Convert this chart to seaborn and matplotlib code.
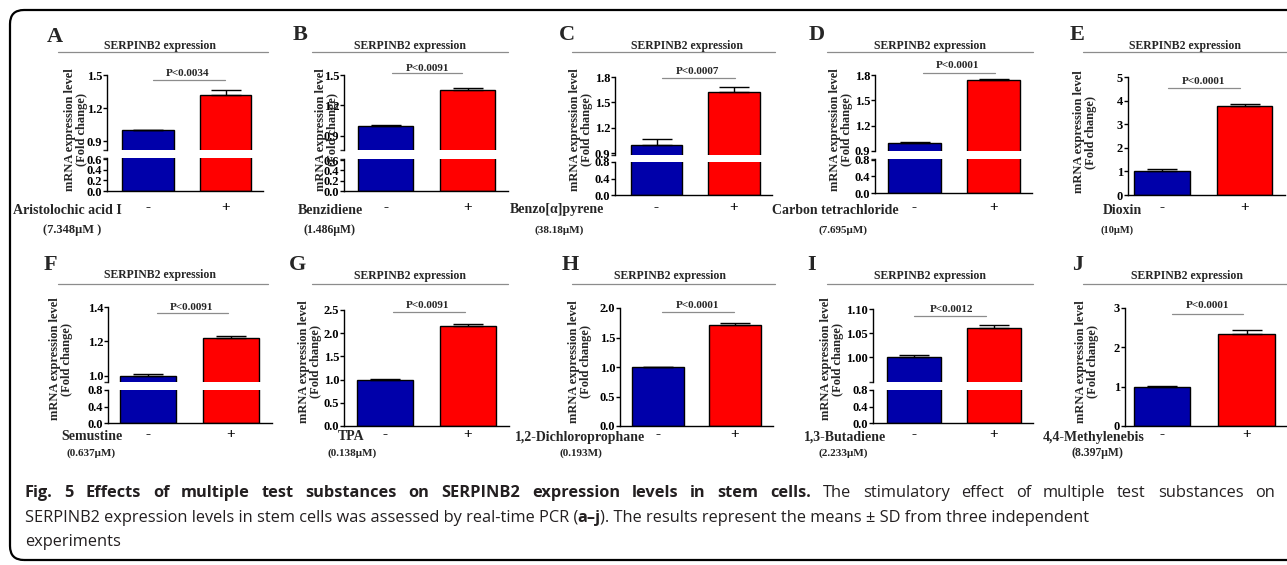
import matplotlib
matplotlib.use("Agg")
import matplotlib.pyplot as plt
from matplotlib.lines import Line2D
from matplotlib.patches import FancyBboxPatch
from matplotlib.ticker import FormatStrFormatter
import pandas as pd
import seaborn as sns

# ---- values ----
letters = ["A", "B", "C", "D", "E", "F", "G", "H", "I", "J"]
substances = ["Aristolochic acid I", "Benzidiene", "Benzo[α]pyrene", "Carbon tetrachloride", "Dioxin",
              "Semustine", "TPA", "1,2-Dichloroprophane", "1,3-Butadiene", "4,4-Methylenebis"]
doses = ["(7.348μM )", "(1.486μM)", "(38.18μM)", "(7.695μM)", "(10μM)",
         "(0.637μM)", "(0.138μM)", "(0.193M)", "(2.233μM)", "(8.397μM)"]
p_values = ["P<0.0034", "P<0.0091", "P<0.0007", "P<0.0001", "P<0.0001",
            "P<0.0091", "P<0.0091", "P<0.0001", "P<0.0012", "P<0.0001"]
groups = ["-", "+"]
ctrl_mean = [1.00, 1.00, 1.00, 1.00, 1.00, 1.00, 1.00, 1.00, 1.00, 1.00]
ctrl_sd = [0.005, 0.004, 0.07, 0.005, 0.10, 0.012, 0.02, 0.0, 0.005, 0.02]
treat_mean = [1.32, 1.35, 1.62, 1.74, 3.78, 1.22, 2.15, 1.72, 1.06, 2.33]
treat_sd = [0.045, 0.02, 0.06, 0.015, 0.09, 0.013, 0.05, 0.02, 0.007, 0.12]
upper_ticks = [[0.9, 1.2, 1.5], [0.9, 1.2, 1.5], [0.9, 1.2, 1.5, 1.8], [0.9, 1.2, 1.5, 1.8],
               [0, 1, 2, 3, 4, 5], [1.0, 1.2, 1.4], [0, 0.5, 1.0, 1.5, 2.0, 2.5],
               [0, 0.5, 1.0, 1.5, 2.0], [1.00, 1.05, 1.10], [0, 1, 2, 3]]
lower_ticks = [[0, 0.2, 0.4, 0.6], [0, 0.2, 0.4, 0.6], [0, 0.4, 0.8], [0, 0.4, 0.8], None,
               [0, 0.4, 0.8], None, None, [0, 0.4, 0.8], None]
# axis break limits (None = continuous axis)
upper_lo = [0.82, 0.76, 0.88, 0.90, None, 0.965, None, None, 0.948, None]
lower_hi = [0.62, 0.62, 0.80, 0.82, None, 0.80, None, None, 0.80, None]
tick_fmt = ["%.1f", "%.1f", "%.1f", "%.1f", "%d", "%.1f", "%.1f", "%.1f", "%.2f", "%d"]

caption_1 = [("Fig. 5 Effects of multiple test substances on SERPINB2 expression levels in stem cells.", "bold"),
             ("The stimulatory effect of multiple test substances on", "normal")]
caption_2 = [("SERPINB2 expression levels in stem cells was assessed by real-time PCR (", "normal"),
             ("a–j", "bold"),
             ("). The results represent the means ± SD from three independent", "normal")]
caption_3 = [("experiments", "normal")]

# ---- layout in pixels of the 1287x565 picture ----
W, H = 1287, 565
yaxis_x = [107, 344, 615, 875, 1128, 108, 344, 620, 873, 1125]
bar0_x = [148, 385.5, 656.5, 914.5, 1162, 148, 385, 658, 914, 1162]
bar1_x = [225.5, 467.5, 734, 993.5, 1244.5, 231, 468, 735, 994, 1246.5]
top_y = [75, 75, 77, 75, 77, 307, 310, 308, 309, 308]
bot_y = [191, 191, 195, 193, 195, 423, 426, 426, 423, 426]
upper_bot_y = [150, 150, 155, 151, None, 382, None, None, 382, None]
lower_top_y = [158, 159, 162, 159, None, 390, None, None, 390, None]
letter_xy = [(55, 37), (300, 35), (567, 35), (817, 35), (1077, 35),
             (50, 265), (298, 265), (570, 265), (812, 265), (1078, 265)]
title_xy = [(160, 46), (410, 46), (687, 46), (930, 46), (1185, 46),
            (160, 275), (410, 276), (670, 276), (930, 276), (1187, 276)]
title_line = [(58, 268, 52), (312, 508, 52), (572, 775, 52), (827, 1033, 52), (1083, 1290, 52),
              (58, 268, 284), (312, 508, 284), (572, 775, 284), (827, 1033, 284), (1083, 1290, 284)]
p_xy = [(188, 73), (427, 68), (698, 71), (958, 66), (1203, 81),
        (192, 307), (428, 306), (698, 306), (952, 310), (1208, 306)]
p_line = [(153, 225, 80), (392, 462, 73), (662, 735, 78), (923, 995, 73), (1168, 1240, 88),
          (157, 228, 313), (393, 465, 312), (662, 734, 312), (914, 986, 316), (1172, 1243, 314)]
ylab_x = [76, 327, 581, 841, 1085, 61, 310, 580, 832, 1087]
ylab_y = [130, 130, 130, 130, 132, 359, 362, 362, 359, 362]
sub_x = [67, 330, 557, 835, 1122, 92, 351, 580, 845, 1094]
dose_x = [72, 330, 559, 843, 1117, 91, 352, 581, 843, 1097]
dose_size = [9, 8.5, 8, 8, 7.5, 8, 8, 8, 8, 8.5]
row_label_y = [210, 437]
row_dose_y = [230, 453]

BLUE = "#0000AA"
RED = "#FF0000"

sns.set_style("ticks")
plt.rcParams["font.family"] = ["Liberation Serif", "DejaVu Serif"]
plt.rcParams["font.weight"] = "bold"
plt.rcParams["axes.linewidth"] = 1.0
plt.rcParams["axes.edgecolor"] = "black"


def fx(x):
    return x / W


def fy(y):
    return 1 - y / H


def px_axes(x0, x1, y0, y1):
    return fig.add_axes([fx(x0), fy(y1), (x1 - x0) / W, (y1 - y0) / H])


def draw_bars(ax, i):
    df = pd.DataFrame({"group": groups, "value": [ctrl_mean[i], treat_mean[i]]})
    sns.barplot(data=df, x="group", y="value", hue="group", order=groups, hue_order=groups,
                palette=[BLUE, RED], saturation=1, width=0.67, edgecolor="black",
                linewidth=1.0, errorbar=None, legend=False, ax=ax)
    ax.errorbar([0, 1], [ctrl_mean[i], treat_mean[i]],
                yerr=[[0, 0], [ctrl_sd[i], treat_sd[i]]], fmt="none", ecolor="black",
                elinewidth=1.0, capsize=11, capthick=1.0, zorder=3)
    ax.set_xlabel("")
    ax.set_ylabel("")
    ax.set_facecolor("none")
    sns.despine(ax=ax)
    ax.tick_params(axis="y", length=3, width=1, labelsize=9, pad=0.5, colors="black")


fig = plt.figure(figsize=(W / 100, H / 100), dpi=100)

for i in range(10):
    row = 0 if i < 5 else 1
    s = bar1_x[i] - bar0_x[i]
    xl = (yaxis_x[i] - bar0_x[i]) / s
    xr = 1.49
    x_right = bar0_x[i] + xr * s
    pad_pt = (row_label_y[row] - bot_y[i] - 9) / 1.389

    if upper_lo[i] is None:
        ax = px_axes(yaxis_x[i], x_right, top_y[i], bot_y[i])
        draw_bars(ax, i)
        ax.set_ylim(0, upper_ticks[i][-1])
        ax.set_yticks(upper_ticks[i])
        ax.yaxis.set_major_formatter(FormatStrFormatter(tick_fmt[i]))
        bottom_ax = ax
    else:
        ax = px_axes(yaxis_x[i], x_right, top_y[i], upper_bot_y[i])
        draw_bars(ax, i)
        ax.set_ylim(upper_lo[i], upper_ticks[i][-1])
        ax.set_yticks(upper_ticks[i])
        ax.set_yticks([upper_lo[i]], minor=True)
        ax.tick_params(axis="y", which="minor", length=3, width=1)
        ax.yaxis.set_major_formatter(FormatStrFormatter(tick_fmt[i]))
        ax.spines["bottom"].set_visible(False)
        ax.tick_params(axis="x", bottom=False, labelbottom=False)
        ax.set_xlim(xl, xr)

        bottom_ax = px_axes(yaxis_x[i], x_right, lower_top_y[i], bot_y[i])
        draw_bars(bottom_ax, i)
        bottom_ax.set_ylim(0, lower_hi[i])
        bottom_ax.set_yticks(lower_ticks[i])
        bottom_ax.set_yticks([lower_hi[i]], minor=True)
        bottom_ax.tick_params(axis="y", which="minor", length=3, width=1)
        bottom_ax.yaxis.set_major_formatter(FormatStrFormatter("%.1f"))

    bottom_ax.set_xlim(xl, xr)
    bottom_ax.tick_params(axis="x", length=0, labelsize=11, pad=pad_pt, colors="black")

    # panel decorations
    fig.text(fx(letter_xy[i][0]), fy(letter_xy[i][1]), letters[i], fontsize=16,
             ha="center", va="center")
    fig.text(fx(title_xy[i][0]), fy(title_xy[i][1]), "SERPINB2 expression", fontsize=8.5,
             ha="center", va="center")
    x0, x1, y = title_line[i]
    fig.add_artist(Line2D([fx(x0), fx(x1)], [fy(y), fy(y)], color="#8c8c8c", lw=0.9))
    fig.text(fx(p_xy[i][0]), fy(p_xy[i][1]), p_values[i], fontsize=8, ha="center", va="center")
    x0, x1, y = p_line[i]
    fig.add_artist(Line2D([fx(x0), fx(x1)], [fy(y), fy(y)], color="#8c8c8c", lw=0.9))
    fig.text(fx(ylab_x[i]), fy(ylab_y[i]), "mRNA expression level\n(Fold change)", fontsize=9,
             rotation=90, ha="center", va="center", multialignment="center", linespacing=1.05)
    fig.text(fx(sub_x[i]), fy(row_label_y[row]), substances[i], fontsize=10,
             ha="center", va="center")
    fig.text(fx(dose_x[i]), fy(row_dose_y[row]), doses[i], fontsize=dose_size[i],
             ha="center", va="center")

# rounded frame around the whole figure
frame = FancyBboxPatch((10, 5), 1320, 550, boxstyle="round,pad=0,rounding_size=14",
                       transform=None, fill=False, edgecolor="black", linewidth=1.6)
fig.add_artist(frame)

# caption with mixed weights
renderer = fig.canvas.get_renderer()
cap_family = ["Open Sans", "DejaVu Sans"]
cap_size = 11.8
cap_color = "#231f20"


def cap_text(txt, weight, y):
    return fig.text(0, fy(y), txt, fontsize=cap_size, fontweight=weight, family=cap_family,
                    color=cap_color, ha="left", va="baseline")


def width_px(t):
    return t.get_window_extent(renderer).width


def justified_line(x, x_end, y, parts):
    # word by word, spread the spare room over the gaps
    words = []
    for txt, weight in parts:
        for w in txt.split(" "):
            words.append(cap_text(w, weight, y))
    probe = cap_text("a a", "normal", y)
    probe2 = cap_text("aa", "normal", y)
    space = width_px(probe) - width_px(probe2)
    probe.remove()
    probe2.remove()
    widths = [width_px(t) for t in words]
    extra = (x_end - x - sum(widths) - space * (len(words) - 1)) / (len(words) - 1)
    for t, w in zip(words, widths):
        t.set_x(fx(x))
        x += w + space + extra


def plain_line(x, y, parts, gaps):
    for (txt, weight), gap in zip(parts, gaps):
        x += gap
        t = cap_text(txt, weight, y)
        t.set_x(fx(x))
        x += width_px(t)


justified_line(25, 1275, 497, caption_1)
plain_line(25, 522, caption_2, [0, -1.5, 0])
plain_line(25, 546, caption_3, [0])

fig.savefig("out.png", dpi=100)
